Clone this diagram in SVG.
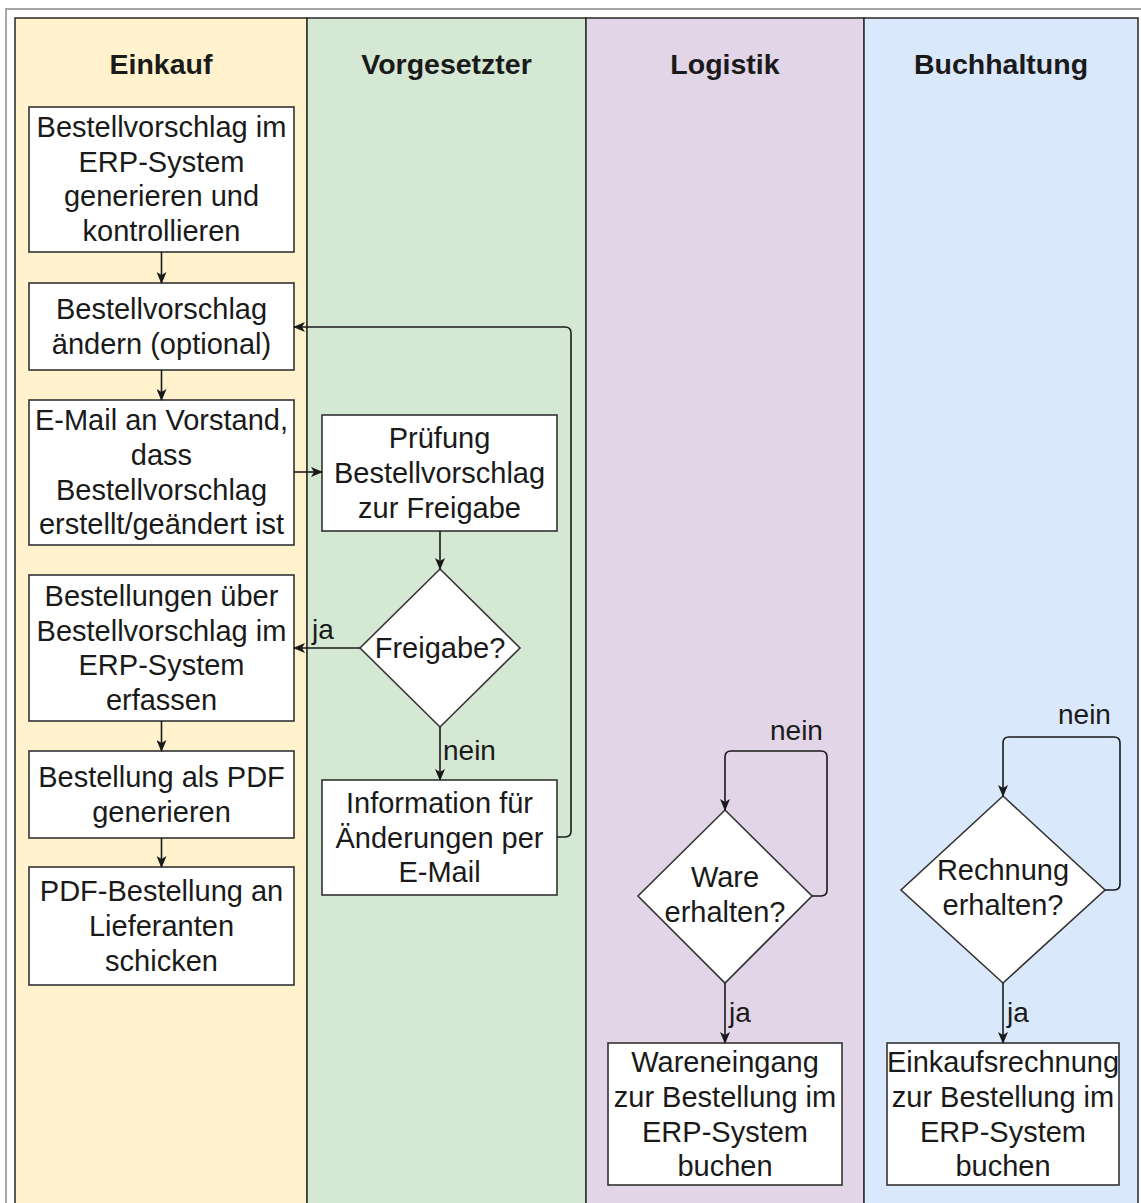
<svg xmlns="http://www.w3.org/2000/svg" width="1141" height="1203" viewBox="0 0 1141 1203">
  <style>
    .frame { fill: #ffffff; stroke: #a6a6a6; stroke-width: 2; }
    .lane { stroke: #333333; stroke-width: 1.6; }
    .box { fill: #ffffff; stroke: #333333; stroke-width: 1.6; }
    .head { font-family: "Liberation Sans", Arial, sans-serif; font-weight: bold; font-size: 28.5px; fill: #1a1a1a; text-anchor: middle; }
    .txt { font-family: "Liberation Sans", Arial, sans-serif; font-size: 29px; fill: #1a1a1a; text-anchor: middle; }
    .lbl { font-family: "Liberation Sans", Arial, sans-serif; font-size: 28px; fill: #1a1a1a; }
    .edge { fill: none; stroke: #1a1a1a; stroke-width: 1.6; marker-end: url(#arrow); }
  </style>
  <defs>
    <marker id="arrow" viewBox="0 0 12 10" refX="11" refY="5" markerWidth="12" markerHeight="10" markerUnits="userSpaceOnUse" orient="auto">
      <path d="M0,0 L12,5 L0,10 L3,5 Z" fill="#1a1a1a"/>
    </marker>
  </defs>

  <!-- outer frame -->
  <rect class="frame" x="6" y="9" width="1145" height="1205"/>

  <!-- swimlanes -->
  <g id="lane-einkauf">
    <rect class="lane" x="15" y="18" width="292" height="1200" fill="#fff2cc"/>
    <text class="head" x="161" y="74">Einkauf</text>
  </g>
  <g id="lane-vorgesetzter">
    <rect class="lane" x="307" y="18" width="279" height="1200" fill="#d5e8d4"/>
    <text class="head" x="446.5" y="74">Vorgesetzter</text>
  </g>
  <g id="lane-logistik">
    <rect class="lane" x="586" y="18" width="278" height="1200" fill="#e1d5e7"/>
    <text class="head" x="725" y="74">Logistik</text>
  </g>
  <g id="lane-buchhaltung">
    <rect class="lane" x="864" y="18" width="274" height="1200" fill="#dae8fc"/>
    <text class="head" x="1001" y="74">Buchhaltung</text>
  </g>

  <!-- Einkauf nodes -->
  <g id="n-generieren">
    <rect class="box" x="29" y="107" width="265" height="145"/>
    <text class="txt" x="161.5" y="137">Bestellvorschlag im</text>
    <text class="txt" x="161.5" y="172">ERP-System</text>
    <text class="txt" x="161.5" y="206">generieren und</text>
    <text class="txt" x="161.5" y="241">kontrollieren</text>
  </g>
  <g id="n-aendern">
    <rect class="box" x="29" y="283" width="265" height="87"/>
    <text class="txt" x="161.5" y="319">Bestellvorschlag</text>
    <text class="txt" x="161.5" y="354">ändern (optional)</text>
  </g>
  <g id="n-email">
    <rect class="box" x="29" y="400" width="265" height="145"/>
    <text class="txt" x="161.5" y="430">E-Mail an Vorstand,</text>
    <text class="txt" x="161.5" y="465">dass</text>
    <text class="txt" x="161.5" y="500">Bestellvorschlag</text>
    <text class="txt" x="161.5" y="534">erstellt/geändert ist</text>
  </g>
  <g id="n-erfassen">
    <rect class="box" x="29" y="575" width="265" height="146"/>
    <text class="txt" x="161.5" y="606">Bestellungen über</text>
    <text class="txt" x="161.5" y="641">Bestellvorschlag im</text>
    <text class="txt" x="161.5" y="675">ERP-System</text>
    <text class="txt" x="161.5" y="710">erfassen</text>
  </g>
  <g id="n-pdf">
    <rect class="box" x="29" y="751" width="265" height="87"/>
    <text class="txt" x="161.5" y="787">Bestellung als PDF</text>
    <text class="txt" x="161.5" y="822">generieren</text>
  </g>
  <g id="n-schicken">
    <rect class="box" x="29" y="867" width="265" height="118"/>
    <text class="txt" x="161.5" y="901">PDF-Bestellung an</text>
    <text class="txt" x="161.5" y="936">Lieferanten</text>
    <text class="txt" x="161.5" y="971">schicken</text>
  </g>

  <!-- Vorgesetzter nodes -->
  <g id="n-pruefung">
    <rect class="box" x="322" y="415" width="235" height="116"/>
    <text class="txt" x="439.5" y="448">Prüfung</text>
    <text class="txt" x="439.5" y="483">Bestellvorschlag</text>
    <text class="txt" x="439.5" y="518">zur Freigabe</text>
  </g>
  <g id="n-freigabe">
    <polygon class="box" points="440,569 520,648 440,727 360,648"/>
    <text class="txt" x="440" y="658">Freigabe?</text>
  </g>
  <g id="n-information">
    <rect class="box" x="322" y="780" width="235" height="115"/>
    <text class="txt" x="439.5" y="813">Information für</text>
    <text class="txt" x="439.5" y="848">Änderungen per</text>
    <text class="txt" x="439.5" y="882">E-Mail</text>
  </g>

  <!-- Logistik nodes -->
  <g id="n-ware">
    <polygon class="box" points="725,810 812,896 725,983 638,896"/>
    <text class="txt" x="725" y="887">Ware</text>
    <text class="txt" x="725" y="922">erhalten?</text>
  </g>
  <g id="n-wareneingang">
    <rect class="box" x="608" y="1043" width="234" height="142"/>
    <text class="txt" x="725" y="1072">Wareneingang</text>
    <text class="txt" x="725" y="1107">zur Bestellung im</text>
    <text class="txt" x="725" y="1142">ERP-System</text>
    <text class="txt" x="725" y="1176">buchen</text>
  </g>

  <!-- Buchhaltung nodes -->
  <g id="n-rechnung">
    <polygon class="box" points="1003,796 1105,890 1003,983 901,890"/>
    <text class="txt" x="1003" y="880">Rechnung</text>
    <text class="txt" x="1003" y="915">erhalten?</text>
  </g>
  <g id="n-einkaufsrechnung">
    <rect class="box" x="887" y="1043" width="232" height="142"/>
    <text class="txt" x="1003" y="1072">Einkaufsrechnung</text>
    <text class="txt" x="1003" y="1107">zur Bestellung im</text>
    <text class="txt" x="1003" y="1142">ERP-System</text>
    <text class="txt" x="1003" y="1176">buchen</text>
  </g>

  <!-- connectors -->
  <g id="connectors">
    <path class="edge" d="M161.5,252 L161.5,283"/>
    <path class="edge" d="M161.5,370 L161.5,400"/>
    <path class="edge" d="M294,472 L322,472"/>
    <path class="edge" d="M161.5,721 L161.5,751"/>
    <path class="edge" d="M161.5,838 L161.5,867"/>
    <path class="edge" d="M440,531 L440,569"/>
    <path class="edge" d="M360,648 L294,648"/>
    <text class="lbl" x="312" y="639">ja</text>
    <path class="edge" d="M440,727 L440,780"/>
    <text class="lbl" x="443" y="760">nein</text>
    <path class="edge" d="M557,837 L565,837 Q571,837 571,831 L571,333 Q571,327 565,327 L294,327"/>
    <path class="edge" d="M812,896 L821,896 Q827,896 827,890 L827,757 Q827,751 821,751 L731,751 Q725,751 725,757 L725,810"/>
    <text class="lbl" x="770" y="740">nein</text>
    <path class="edge" d="M725,983 L725,1043"/>
    <text class="lbl" x="729" y="1022">ja</text>
    <path class="edge" d="M1105,890 L1114,890 Q1120,890 1120,884 L1120,743 Q1120,737 1114,737 L1009,737 Q1003,737 1003,743 L1003,796"/>
    <text class="lbl" x="1058" y="724">nein</text>
    <path class="edge" d="M1003,983 L1003,1043"/>
    <text class="lbl" x="1007" y="1022">ja</text>
  </g>
</svg>
